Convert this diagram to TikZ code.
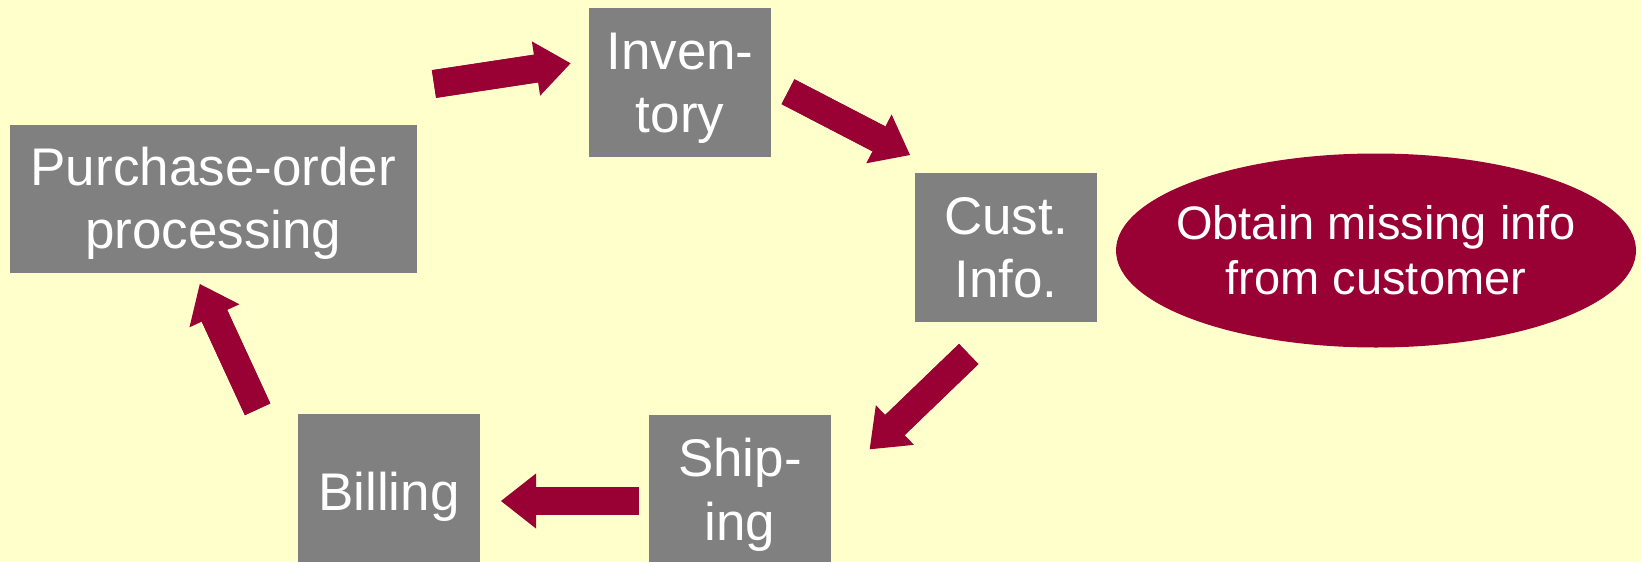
\documentclass[tikz,border=0pt]{standalone}
\usepackage{fontspec}
\setmainfont{Liberation Sans}
\usetikzlibrary{arrows.meta,shapes.geometric}
\definecolor{bgyellow}{HTML}{FFFFCC}
\definecolor{boxgray}{HTML}{808080}
\definecolor{arrowred}{HTML}{990033}
\newcommand\myStrut{\rule[-0.212em]{0pt}{1.117em}}
\begin{document}
\begin{tikzpicture}[x=1pt,y=-1pt,
  box/.style={fill=boxgray, inner sep=0pt, text=white, align=center,
    font=\fontsize{53}{63.6}\selectfont},
  oval/.style={ellipse, fill=arrowred, inner sep=0pt},
  ovaltext/.style={text=white, align=center, font=\fontsize{47}{55}\selectfont, inner sep=0pt},
  flow/.style={draw=arrowred, fill=arrowred, line width=28pt,
    -{Triangle[length=35pt 0 0, width=55pt 0 0, line width=0pt 0 0]},
    postaction={draw=arrowred, line width=28pt, -, shorten >=30pt}}]
\fill[bgyellow] (0,0) rectangle (1641,562);
\useasboundingbox (0,0) rectangle (1641,562);

\node[box, minimum width=406.5pt, minimum height=147.5pt] (po) at (213.25,198.75)
  {\myStrut Purchase-order\\\myStrut processing};
\node[box, minimum width=182pt, minimum height=149pt] (inv) at (680,82.5)
  {\myStrut Inven-\\\myStrut tory};
\node[box, minimum width=182pt, minimum height=149pt] (cust) at (1006,247.5)
  {\myStrut Cust.\\\myStrut Info.};
\node[box, minimum width=182pt, minimum height=150pt] (ship) at (740,490)
  {\myStrut Ship-\\\myStrut ing};
\node[box, minimum width=182pt, minimum height=156pt] (bill) at (389,492)
  {\myStrut Billing};
\node[oval, minimum width=520pt, minimum height=194pt,
  label={[ovaltext]center:{\myStrut Obtain missing info\\\myStrut from customer}}]
  (obtain) at (1376,250.5) {};

\coordinate (a1s) at (434,84);     \coordinate (a1e) at (570.6,63.3);
\coordinate (a2s) at (788,91.7);   \coordinate (a2e) at (910,155);
\coordinate (a3s) at (968.7,354);  \coordinate (a3e) at (869.7,449.3);
\coordinate (a4s) at (639,501);    \coordinate (a4e) at (501,501);
\coordinate (a5s) at (257.6,409.3);\coordinate (a5e) at (199.8,284);

\draw[flow] (a1s) -- (a1e);
\draw[flow] (a2s) -- (a2e);
\draw[flow] (a3s) -- (a3e);
\draw[flow] (a4s) -- (a4e);
\draw[flow] (a5s) -- (a5e);
\end{tikzpicture}
\end{document}
